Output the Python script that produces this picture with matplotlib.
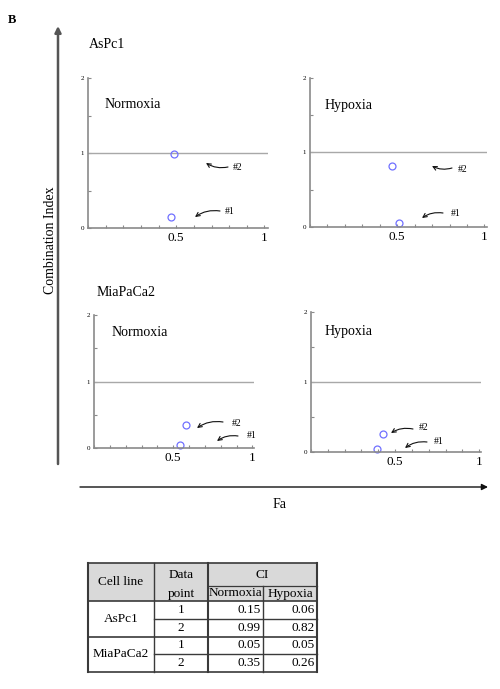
import matplotlib
matplotlib.use('Agg')
import matplotlib.pyplot as plt
from matplotlib.patches import Rectangle
from matplotlib.ticker import MultipleLocator

plt.rcParams['font.family'] = ['Liberation Serif', 'DejaVu Serif']

W, H = 500, 689

# data
cell_lines = ['AsPc1', 'MiaPaCa2']
conditions = ['Normoxia', 'Hypoxia']
data_points = [1, 2]
fa_aspc1_norm = [0.47, 0.49]
fa_aspc1_hyp = [0.51, 0.47]
fa_mia_norm = [0.54, 0.58]
fa_mia_hyp = [0.39, 0.43]
ci_aspc1_norm = [0.15, 0.99]
ci_aspc1_hyp = [0.06, 0.82]
ci_mia_norm = [0.05, 0.35]
ci_mia_hyp = [0.05, 0.26]

fig = plt.figure(figsize=(5, 6.89), dpi=100)

# background axes in pixel coords (y down) for labels, arrows and the table
bg = fig.add_axes([0, 0, 1, 1])
bg.set_xlim(0, W)
bg.set_ylim(H, 0)
bg.axis('off')


def px_axes(left, top, right, bottom):
    return fig.add_axes([left / W, 1 - bottom / H, (right - left) / W, (bottom - top) / H])


# box (l, t, r, b), xmax, condition text pos, arrows: (label, text pos, tail, tip)
panels = [
    dict(box=(88, 78, 268, 228), xmax=1.02, fa=fa_aspc1_norm, ci=ci_aspc1_norm,
         cond=conditions[0], cond_xy=(105, 104),
         arrows=[('#2', (233, 167), (228, 167), (206, 163)),
                 ('#1', (225, 211), (220, 211), (195, 217))]),
    dict(box=(310, 78, 487, 227), xmax=1.015, fa=fa_aspc1_hyp, ci=ci_aspc1_hyp,
         cond=conditions[1], cond_xy=(325, 105),
         arrows=[('#2', (458, 169), (452, 168), (432, 166)),
                 ('#1', (451, 213), (443, 213), (422, 218))]),
    dict(box=(94, 315, 254, 448), xmax=1.01, fa=fa_mia_norm, ci=ci_mia_norm,
         cond=conditions[0], cond_xy=(112, 332),
         arrows=[('#2', (232, 423), (223, 422), (197, 428)),
                 ('#1', (247, 435), (238, 436), (217, 441))]),
    dict(box=(311, 312, 481, 452), xmax=1.01, fa=fa_mia_hyp, ci=ci_mia_hyp,
         cond=conditions[1], cond_xy=(325, 332),
         arrows=[('#2', (419, 428), (413, 429), (391, 433)),
                 ('#1', (434, 442), (427, 442), (405, 448))]),
]

for p in panels:
    ax = px_axes(*p['box'])
    ax.set_facecolor('none')
    ax.set_xlim(0, p['xmax'])
    ax.set_ylim(0, 2)
    for s in ['top', 'right']:
        ax.spines[s].set_visible(False)
    for s in ['left', 'bottom']:
        ax.spines[s].set_color('#8a8a8a')
        ax.spines[s].set_linewidth(1.2)
    ax.axhline(1, color='#a8a8a8', lw=1)
    ax.plot(p['fa'], p['ci'], 'o', mfc='none', mec='#7070ff', ms=5, mew=0.9, clip_on=False)
    ax.set_yticks([0, 1, 2])
    ax.set_yticklabels(['0', '1', '2'], fontsize=5)
    ax.yaxis.set_minor_locator(MultipleLocator(0.5))
    ax.set_xticks([0.5, 1])
    ax.set_xticklabels(['0.5', '1'], fontsize=9.5)
    ax.xaxis.set_minor_locator(MultipleLocator(0.1))
    ax.tick_params(which='both', direction='in', color='#8a8a8a', width=0.8, length=2.5)
    ax.tick_params(axis='y', pad=3)
    ax.tick_params(axis='x', pad=3)
    bg.text(*p['cond_xy'], p['cond'], fontsize=10, va='center', ha='left')
    for lab, txy, tail, tip in p['arrows']:
        bg.text(*txy, lab, fontsize=7, va='center', ha='left')
        rad = 0.2 if tip[1] >= tail[1] else -0.2
        bg.annotate('', xy=tip, xytext=tail,
                    arrowprops=dict(arrowstyle='->', lw=0.8, color='#111111',
                                    shrinkA=0, shrinkB=0, mutation_scale=7,
                                    connectionstyle='arc3,rad=%.2f' % rad))

# panel letter, cell line names, axis titles
bg.text(8, 20, 'B', fontsize=9, fontweight='bold', va='center', ha='left')
bg.text(89, 45, cell_lines[0], fontsize=10, va='center', ha='left')
bg.text(97, 292, cell_lines[1], fontsize=10, va='center', ha='left')
bg.text(50, 240, 'Combination Index', fontsize=10, rotation=90, va='center', ha='center')
bg.text(280, 505, 'Fa', fontsize=10, va='center', ha='center')

bg.annotate('', xy=(58, 26), xytext=(58, 464),
            arrowprops=dict(arrowstyle='-|>', lw=1.8, color='#555555',
                            shrinkA=0, shrinkB=0, mutation_scale=9))
bg.annotate('', xy=(488, 487), xytext=(80, 487),
            arrowprops=dict(arrowstyle='-|>', lw=1, color='#111111',
                            shrinkA=0, shrinkB=0, mutation_scale=9))

# table
cols = [88, 154, 208, 263, 317]
hdr = [563, 586, 601]
rows = [601, 619, 637, 654, 672]
lc = '#3a3a3a'
bg.add_patch(Rectangle((cols[0], hdr[0]), cols[-1] - cols[0], hdr[2] - hdr[0],
                       fc='#d9d9d9', ec='none'))
bg.plot([cols[0], cols[-1]], [hdr[0], hdr[0]], color=lc, lw=1.2)
bg.plot([cols[2], cols[-1]], [hdr[1], hdr[1]], color=lc, lw=0.9)
bg.plot([cols[0], cols[-1]], [hdr[2], hdr[2]], color=lc, lw=1.2)
for i, y in enumerate(rows[1:]):
    x0 = cols[1] if i % 2 == 0 else cols[0]
    bg.plot([x0, cols[-1]], [y, y], color=lc, lw=1.0 if i % 2 == 0 else 1.2)
for j, x in enumerate(cols):
    y0 = hdr[1] if j == 3 else hdr[0]
    bg.plot([x, x], [y0, rows[-1]], color=lc, lw=1.5 if j in (0, 2, 4) else 1.0)

fs = 9.5
bg.text((cols[0] + cols[1]) / 2, (hdr[0] + hdr[2]) / 2, 'Cell line', fontsize=fs, ha='center', va='center')
bg.text((cols[1] + cols[2]) / 2, (hdr[0] + hdr[1]) / 2, 'Data', fontsize=fs, ha='center', va='center')
bg.text((cols[1] + cols[2]) / 2, (hdr[1] + hdr[2]) / 2, 'point', fontsize=fs, ha='center', va='center')
bg.text((cols[2] + cols[4]) / 2, (hdr[0] + hdr[1]) / 2, 'CI', fontsize=fs, ha='center', va='center')
bg.text((cols[2] + cols[3]) / 2, (hdr[1] + hdr[2]) / 2, conditions[0], fontsize=fs, ha='center', va='center')
bg.text((cols[3] + cols[4]) / 2, (hdr[1] + hdr[2]) / 2, conditions[1], fontsize=fs, ha='center', va='center')

norm_vals = [ci_aspc1_norm, ci_mia_norm]
hyp_vals = [ci_aspc1_hyp, ci_mia_hyp]
for c, name in enumerate(cell_lines):
    bg.text((cols[0] + cols[1]) / 2, rows[2 * c + 1], name, fontsize=fs, ha='center', va='center')
    for k, dp in enumerate(data_points):
        yc = (rows[2 * c + k] + rows[2 * c + k + 1]) / 2
        bg.text((cols[1] + cols[2]) / 2, yc, str(dp), fontsize=fs, ha='center', va='center')
        bg.text(cols[3] - 2, yc, '%.2f' % norm_vals[c][k], fontsize=fs, ha='right', va='center')
        bg.text(cols[4] - 2, yc, '%.2f' % hyp_vals[c][k], fontsize=fs, ha='right', va='center')

fig.savefig('out.png', dpi=100)
